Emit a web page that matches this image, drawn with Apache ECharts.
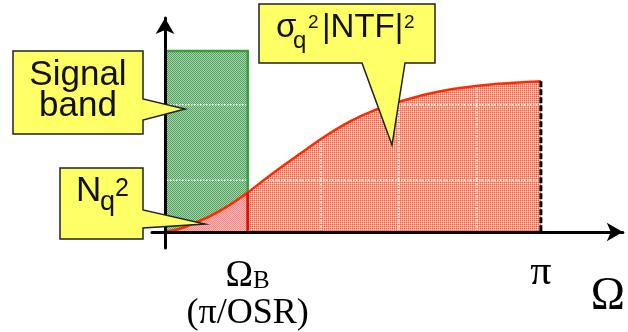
<!DOCTYPE html>
<html><head><meta charset="utf-8">
<script src="https://cdn.jsdelivr.net/npm/echarts@6/dist/echarts.min.js"></script>
<style>html,body{margin:0;padding:0;background:#fff}#c{width:628px;height:332px}</style>
</head><body><div id="c"></div>
<script>
// Frequency in units of pi, noise power normalised to its value at pi
const curveX = [0, 0.04, 0.074, 0.12, 0.165, 0.22, 0.28, 0.36, 0.42, 0.49, 0.55, 0.625, 0.705, 0.79, 0.88, 1.00];
const curveY = [0, 0.022, 0.055, 0.105, 0.168, 0.262, 0.377, 0.52, 0.625, 0.73, 0.80, 0.865, 0.919, 0.956, 0.981, 1.00];
const omegaB = 0.22;        // pi/OSR
const bandHeight = 1.2;     // signal band level
const piX = 1.0;
const gridX = [0.415, 0.622, 0.83];
const gridY = [0.344, 0.844];
const tickValues = [omegaB, piX];
const tickLabels = ['{o|Ω}{s|B}\n{p|(π/OSR)}', '{pi|π}'];
const axisName = 'Ω';

const pts = curveX.map((x, i) => [x, curveY[i]]);
const iB = curveX.indexOf(omegaB);
const inBand = pts.slice(0, iB + 1);
const outBand = pts.slice(iB);

function tile(colors) {
  const c = document.createElement('canvas'); c.width = 2; c.height = 2;
  const g = c.getContext('2d');
  colors.forEach((col, k) => { g.fillStyle = col; g.fillRect(k % 2, Math.floor(k / 2), 1, 1); });
  return { image: c, repeat: 'repeat' };
}
const greenFill = tile(['#539f60', '#a6d5ae', '#a6d5ae', '#539f60']);
const redFill = tile(['#ff5533', '#ffa08a', '#ffa08a', '#ffe6df']);
const pinkFill = tile(['#f28a8a', '#f8b8b8', '#f8b8b8', '#f28a8a']);

const chart = echarts.init(document.getElementById('c'));
const option = {
  animation: false,
  backgroundColor: '#fff',
  grid: { left: 152, right: 5, top: 18, bottom: 70, containLabel: false },
  xAxis: {
    type: 'value', min: -0.0346, max: 1.218, z: 8,
    axisLine: { onZero: true, symbol: ['none', 'arrow'], symbolSize: [14, 16], lineStyle: { color: '#000', width: 3 } },
    axisTick: { show: false }, splitLine: { show: false },
    axisLabel: {
      customValues: tickValues, margin: 10, color: '#000',
      formatter: v => { const k = tickValues.findIndex(t => Math.abs(t - v) < 1e-6); return k < 0 ? '' : tickLabels[k]; },
      rich: {
        o: { fontFamily: 'Liberation Serif', fontSize: 37, lineHeight: 36, color: '#000' },
        s: { fontFamily: 'Liberation Serif', fontSize: 25, lineHeight: 36, verticalAlign: 'bottom', color: '#000' },
        p: { fontFamily: 'Liberation Serif', fontSize: 36, lineHeight: 40, color: '#000' },
        pi: { fontFamily: 'Liberation Serif', fontSize: 42, lineHeight: 30, color: '#000' }
      }
    },
    name: axisName, nameLocation: 'end', nameGap: -32,
    nameTextStyle: { fontFamily: 'Liberation Serif', fontSize: 46, lineHeight: 46, color: '#000', align: 'left', verticalAlign: 'top', padding: [42, 0, 0, 0] }
  },
  yAxis: {
    type: 'value', min: -0.106, max: 1.419, z: 8,
    axisLine: { onZero: true, symbol: ['none', 'arrow'], symbolSize: [14, 16], lineStyle: { color: '#000', width: 3 } },
    axisTick: { show: false }, splitLine: { show: false }, axisLabel: { show: false }
  },
  series: [
    { // signal band fill
      type: 'custom', z: 1, data: [[0, omegaB, bandHeight]], encode: { x: [0, 1], y: 2 },
      renderItem: (p, api) => {
        const a = api.coord([api.value(0), api.value(2)]);
        const b = api.coord([api.value(1), 0]);
        return { type: 'rect', shape: { x: a[0] + 2, y: a[1], width: b[0] - a[0] - 2, height: b[1] - a[1] }, style: { fill: greenFill } };
      }
    },
    { type: 'line', z: 2, data: inBand, smooth: 0.3, showSymbol: false, lineStyle: { width: 0, opacity: 0 }, areaStyle: { color: pinkFill, opacity: 1 } },
    { type: 'line', z: 2, data: outBand, smooth: 0.3, showSymbol: false, lineStyle: { width: 0, opacity: 0 }, areaStyle: { color: redFill, opacity: 1 } },
    { // white dotted vertical grid lines
      type: 'custom', z: 3, data: gridX.map(v => [v, 0]),
      renderItem: (p, api) => {
        const a = api.coord([api.value(0), 0]); const b = api.coord([api.value(0), 1.05]);
        return { type: 'line', shape: { x1: a[0], y1: a[1] - 2, x2: b[0], y2: b[1] }, style: { stroke: 'rgba(255,255,255,0.9)', lineWidth: 1.5, lineDash: [1.5, 1.5] } };
      }
    },
    { // white dotted horizontal grid lines
      type: 'custom', z: 3, data: gridY.map(v => [0, v]),
      renderItem: (p, api) => {
        const a = api.coord([0, api.value(1)]); const b = api.coord([piX, api.value(1)]);
        return { type: 'line', shape: { x1: a[0] + 2, y1: a[1], x2: b[0], y2: b[1] }, style: { stroke: 'rgba(255,255,255,0.9)', lineWidth: 1.5, lineDash: [1.5, 1.5] } };
      }
    },
    { // signal band border
      type: 'custom', z: 4, data: [[0, omegaB, bandHeight]],
      renderItem: (p, api) => {
        const a = api.coord([api.value(0), api.value(2)]);
        const b = api.coord([api.value(1), 0]);
        return { type: 'polyline', shape: { points: [[a[0] + 2, a[1]], [b[0], a[1]], [b[0], b[1]]] }, style: { stroke: '#35a03a', lineWidth: 2.5, fill: null } };
      }
    },
    { type: 'line', z: 5, data: pts, smooth: 0.3, showSymbol: false, lineStyle: { color: '#ff2a00', width: 2.5 } },
    { // red edge at omegaB and dashed edge at pi
      type: 'custom', z: 6, data: [[omegaB, curveY[iB], 0], [piX, curveY[curveY.length - 1], 1]],
      renderItem: (p, api) => {
        const a = api.coord([api.value(0), api.value(1)]); const b = api.coord([api.value(0), 0]);
        const dashed = api.value(2) === 1;
        return { type: 'line', shape: { x1: a[0], y1: a[1], x2: b[0], y2: b[1] },
          style: dashed ? { stroke: '#000', lineWidth: 3, lineDash: [6, 2] } : { stroke: '#ff0000', lineWidth: 2.5 } };
      }
    }
  ]
};
chart.setOption(option);

const box = { fill: '#ffff66', stroke: '#222', lineWidth: 1.5 };
const sans = 'Liberation Sans';
function t(text, x, y, size, align) {
  return { type: 'text', z: 101, x: x, y: y, style: { text: text, fontFamily: sans, fontSize: size, fill: '#111', align: align || 'left', verticalAlign: 'middle' } };
}
chart.setOption({
  graphic: [
    { type: 'polygon', z: 100, shape: { points: [[259, 4], [435, 4], [435, 63], [405, 63], [392, 145], [362, 63], [259, 63]] }, style: box },
    { type: 'polygon', z: 100, shape: { points: [[13, 51], [143, 51], [143, 99], [185, 109], [143, 120], [143, 134], [13, 134]] }, style: box },
    { type: 'polygon', z: 100, shape: { points: [[60, 168], [143, 168], [143, 210], [205, 224], [143, 228], [143, 239], [60, 239]] }, style: box },
    t('Signal', 78, 75, 35, 'center'),
    t('band', 78, 106, 35, 'center'),
    t('N', 76, 191, 35),
    t('q', 100, 203, 27),
    t('2', 115, 189, 25),
    t('σ', 276, 28, 33),
    t('q', 293, 41, 24),
    t('2', 308, 23, 19),
    t('|NTF|', 322, 28, 33),
    t('2', 404, 23, 19)
  ]
});
</script></body></html>
